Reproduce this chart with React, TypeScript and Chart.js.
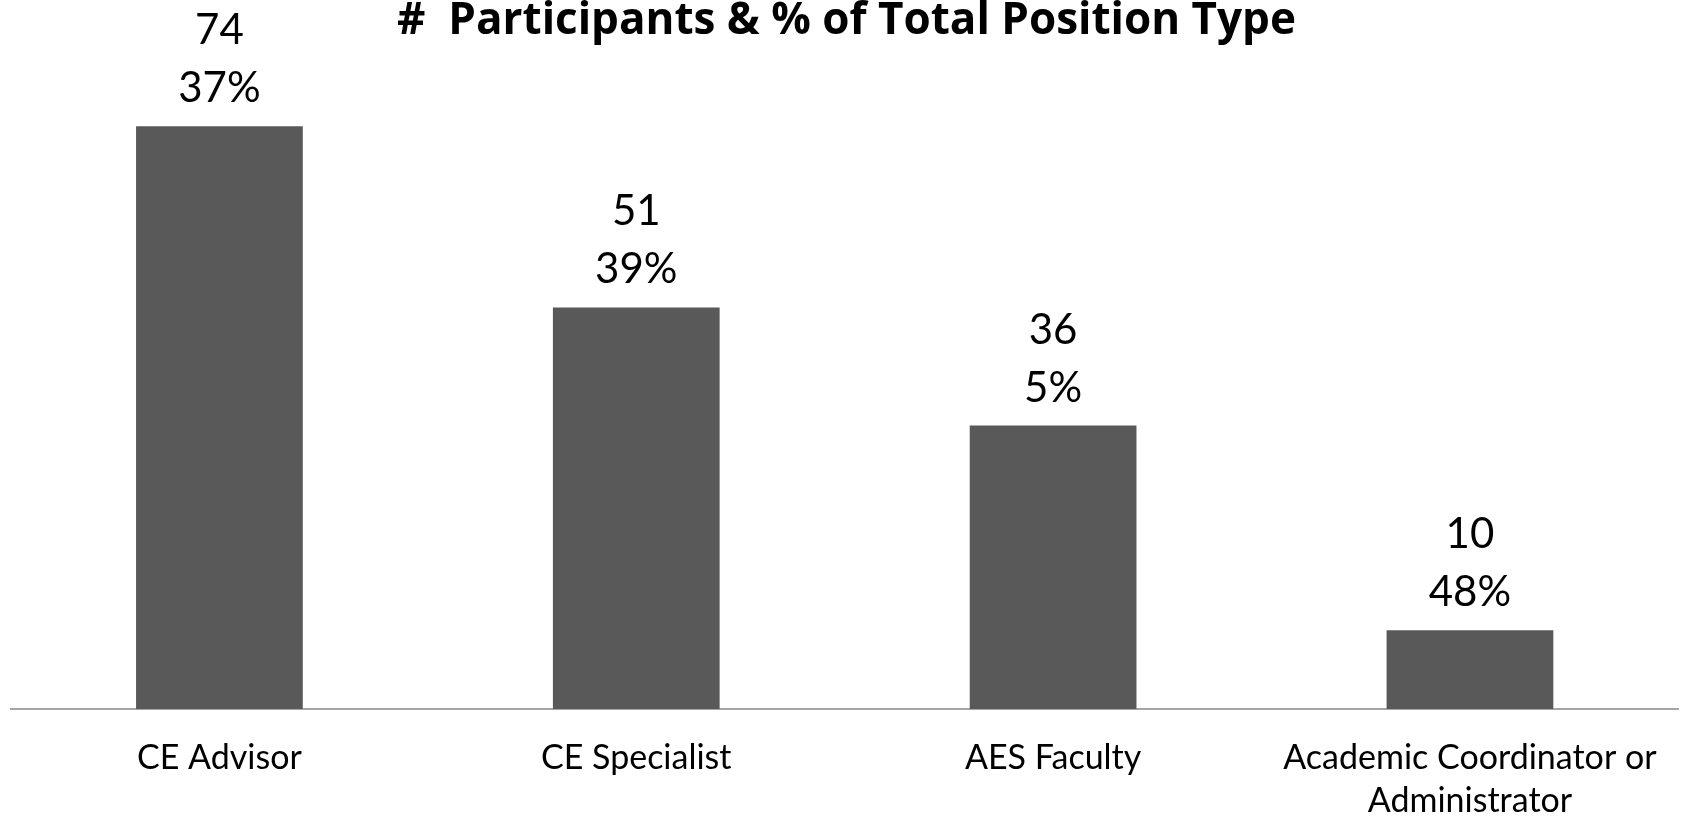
import React, { useEffect, useRef } from "react";
import { Chart, registerables } from "chart.js";

Chart.register(...registerables);

const categories: (string | string[])[] = [
  "CE Advisor",
  "CE Specialist",
  "AES Faculty",
  ["Academic Coordinator or", "Administrator"],
];
const participants: number[] = [74, 51, 36, 10];
const percentLabels: string[] = ["37%", "39%", "5%", "48%"];
const titleText = "#  Participants & % of Total Position Type";

const FONT = "Lato, 'Open Sans', sans-serif";
const TITLE_FONT = "'Open Sans', Lato, sans-serif";

const valueLabelPlugin = {
  id: "valueLabels",
  afterDatasetsDraw(chart: any) {
    const ctx = chart.ctx;
    const meta = chart.getDatasetMeta(0);
    ctx.save();
    ctx.fillStyle = "#000000";
    ctx.font = `400 42px ${FONT}`;
    ctx.textAlign = "center";
    ctx.textBaseline = "alphabetic";
    meta.data.forEach((bar: any, i: number) => {
      const x = bar.x;
      const y = bar.y;
      ctx.fillText(percentLabels[i], x, y - 24);
      ctx.fillText(String(participants[i]), x, y - 24 - 58);
    });
    ctx.restore();
  },
};

export default function App() {
  const canvasRef = useRef<HTMLCanvasElement | null>(null);

  useEffect(() => {
    const canvas = canvasRef.current;
    if (!canvas) return;
    const chart = new Chart(canvas, {
      type: "bar",
      data: {
        labels: categories,
        datasets: [
          {
            label: "Participants",
            data: participants,
            backgroundColor: "#595959",
            borderWidth: 0,
            categoryPercentage: 1,
            barPercentage: 0.4,
          },
        ],
      },
      options: {
        animation: false,
        responsive: false,
        maintainAspectRatio: false,
        layout: { padding: { left: 11, right: 3, top: 0, bottom: 0 } },
        plugins: {
          legend: { display: false },
          tooltip: { enabled: false },
          title: {
            display: true,
            text: titleText,
            color: "#000000",
            font: { family: TITLE_FONT, size: 44, weight: "bold", lineHeight: 0.955 },
            padding: { top: 0, bottom: 37 },
          },
        },
        scales: {
          x: {
            grid: { display: false, drawTicks: false },
            border: { display: true, color: "#a6a6a6", width: 2 },
            ticks: {
              color: "#000000",
              font: { family: FONT, size: 34, lineHeight: 1.26 },
              padding: 28,
              maxRotation: 0,
              autoSkip: false,
            },
            afterFit(scale: any) {
              scale.height = 107;
            },
          },
          y: {
            display: false,
            min: 0,
            max: 80,
          },
        },
      },
      plugins: [valueLabelPlugin],
    });
    return () => chart.destroy();
  }, []);

  return (
    <div style={{ position: "fixed", left: 0, top: 0, width: 1685, height: 816, background: "#ffffff" }}>
      <canvas ref={canvasRef} width={1685} height={816} style={{ width: 1685, height: 816, display: "block" }} />
    </div>
  );
}
